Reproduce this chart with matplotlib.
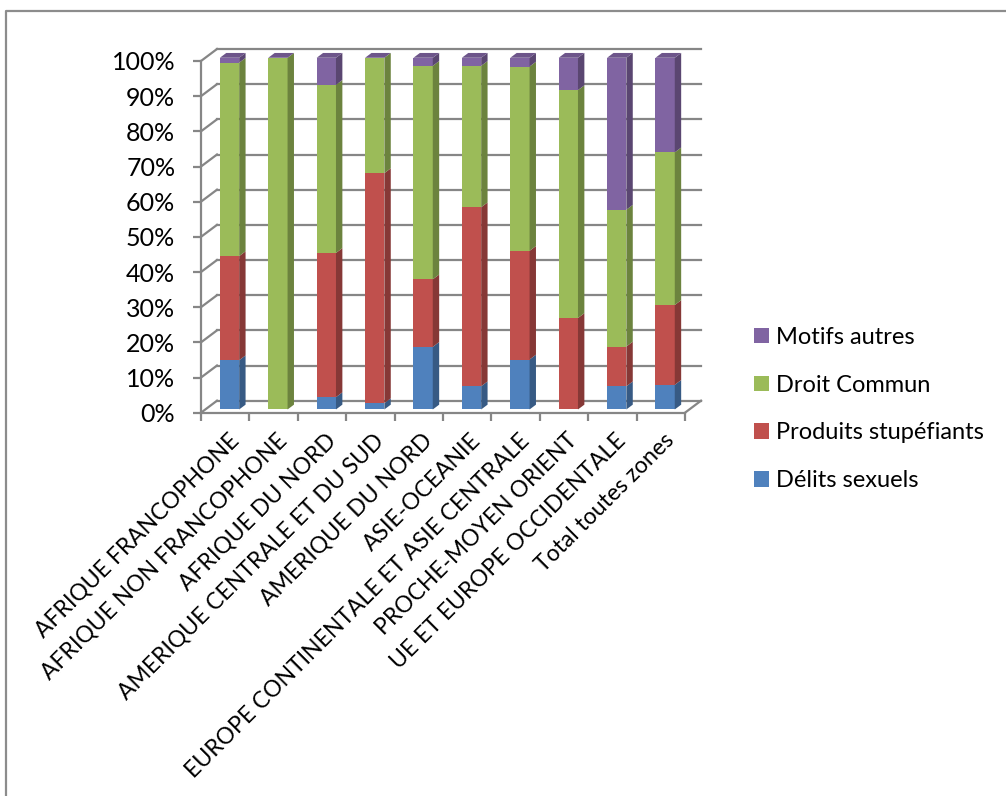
import numpy as np
import matplotlib
matplotlib.use("Agg")
import matplotlib.pyplot as plt
from matplotlib.patches import Patch
from matplotlib.lines import Line2D

plt.rcParams['font.family'] = ['Lato', 'DejaVu Sans']

zones = ['AFRIQUE FRANCOPHONE', 'AFRIQUE NON FRANCOPHONE', 'AFRIQUE DU NORD',
         'AMERIQUE CENTRALE ET DU SUD', 'AMERIQUE DU NORD', 'ASIE-OCEANIE',
         'EUROPE CONTINENTALE ET ASIE CENTRALE', 'PROCHE-MOYEN ORIENT',
         'UE ET EUROPE OCCIDENTALE', 'Total toutes zones']
delits = [14.0, 0.0, 3.5, 1.8, 17.8, 6.6, 14.2, 0.0, 6.6, 7.0]
stup = [29.6, 0.0, 41.0, 65.4, 19.2, 50.9, 30.9, 26.0, 11.3, 22.7]
droit = [55.0, 100.0, 47.8, 32.8, 60.7, 40.2, 52.4, 64.8, 38.9, 43.4]
autres = [1.4, 0.0, 7.7, 0.0, 2.3, 2.3, 2.5, 9.2, 43.2, 26.9]

series = [('Délits sexuels', delits, '#4F81BD'),
          ('Produits stupéfiants', stup, '#C0504D'),
          ('Droit Commun', droit, '#9BBB59'),
          ('Motifs autres', autres, '#8064A2')]

W, H = 1006, 796
fig = plt.figure(figsize=(W / 100, H / 100), dpi=100)
# front plane of the 3D box, in pixels
px_l, px_r, px_b, px_t = 201, 685, 412.7, 61
ax = fig.add_axes([px_l / W, 1 - px_b / H, (px_r - px_l) / W, (px_b - px_t) / H])
n = len(zones)
ax.set_xlim(-0.5, n - 0.5)
ax.set_ylim(0, 100)

# depth of the box in data units (16 px right, 12 px up)
ux = (px_r - px_l) / n
uy = (px_b - px_t) / 100
DX, DY = 16 / ux, 12 / uy

grid = '#868686'
for yv in range(0, 101, 10):
    ax.plot([-0.5 + DX, n - 0.5 + DX], [yv + DY, yv + DY], color=grid, lw=1.6,
            clip_on=False, zorder=1)
    ax.plot([-0.5, -0.5 + DX], [yv, yv + DY], color=grid, lw=1.6, clip_on=False, zorder=1)
ax.plot([n - 0.5, n - 0.5 + DX], [0, DY], color=grid, lw=1.6, clip_on=False, zorder=1)

# bars
bw = 19.3 / ux
f, b = 0.27, 0.4
def shade(c, k):
    r, g, bb = matplotlib.colors.to_rgb(c)
    return (r * k, g * k, bb * k)

bottom = np.zeros(n)
for name, vals, col in series:
    vals = np.array(vals)
    for i in range(n):
        if vals[i] <= 0:
            continue
        x0 = i - bw / 2 + f * DX
        x1 = x0 + bw
        y0 = bottom[i] + f * DY
        y1 = y0 + vals[i]
        ax.fill([x0, x1, x1, x0], [y0, y0, y1, y1], color=col, lw=0, zorder=3, clip_on=False)
        ax.fill([x1, x1 + b * DX, x1 + b * DX, x1], [y0, y0 + b * DY, y1 + b * DY, y1],
                color=shade(col, 0.7), lw=0, zorder=3, clip_on=False)
    bottom += vals

top_col = shade(series[-1][2], 0.85)
for i in range(n):
    x0 = i - bw / 2 + f * DX
    x1 = x0 + bw
    yt = bottom[i] + f * DY
    ax.fill([x0, x1, x1 + b * DX, x0 + b * DX], [yt, yt, yt + b * DY, yt + b * DY],
            color=top_col, lw=0, zorder=3, clip_on=False)

for s in ['top', 'right']:
    ax.spines[s].set_visible(False)
for s in ['left', 'bottom']:
    ax.spines[s].set_color(grid)
    ax.spines[s].set_linewidth(1.6)
ax.patch.set_visible(False)

ax.set_yticks(range(0, 101, 10))
ax.set_yticklabels(['%d%%' % v for v in range(0, 101, 10)], fontsize=18)
ax.set_xticks(np.arange(-0.5, n, 1))
ax.set_xticklabels([])
ax.tick_params(axis='both', colors=grid, length=6, width=1.6, labelcolor='black')
ax.tick_params(axis='y', pad=12.5)

for i, z in enumerate(zones):
    ax.text(i + 0.06, -4.9, z, rotation=45, rotation_mode='anchor', ha='right', va='top',
            fontsize=16.5)

handles = [Patch(facecolor=c, edgecolor='none') for _, _, c in series[::-1]]
labels = [nm for nm, _, _ in series[::-1]]
fig.legend(handles, labels, loc='center left', bbox_to_anchor=(733 / W, 1 - 409 / H),
           frameon=False, fontsize=17, handlelength=0.64, handleheight=0.64,
           handletextpad=0.3, labelspacing=1.13)

# chart area border
fig.add_artist(Line2D([6 / W, 6 / W, 1.0], [0.0, 1 - 11 / H, 1 - 11 / H],
                      color='#8c8c8c', lw=1.6))

fig.savefig('out.png', dpi=100)
